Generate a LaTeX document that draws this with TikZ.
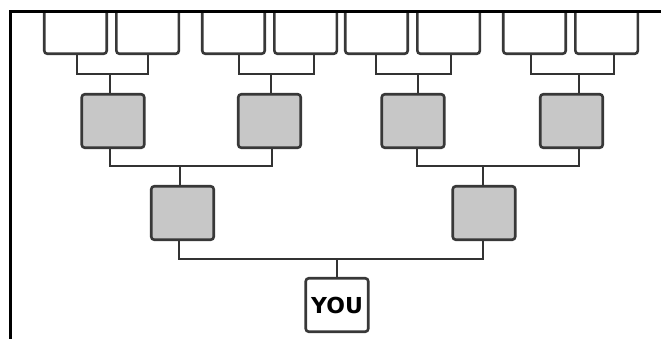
\documentclass[tikz,border=0pt]{standalone}
\usepackage{fontspec}
\usepackage{tikz}
\usetikzlibrary{positioning}
\newfontfamily\youfont{DejaVu Sans}

\begin{document}
\begin{tikzpicture}[
            x = 1pt, y = 1pt, % one unit per pixel
            semithick
            ]

        \tikzstyle{person}=[
            draw = black!78,
            line width = 2.6pt,
            rounded corners = 3pt,
            fill = white,
            minimum width = 62.5pt,
            minimum height = 53.5pt,
            inner sep = 0pt
        ]
        \tikzstyle{ancestor}=[person, fill = black!22]
        \tikzstyle{link}=[draw = black!80, line width = 2.2pt]

    \useasboundingbox (0,0) rectangle (661,339);

	% you
	\node[person] (you) at (337,34) {\youfont\bfseries\fontsize{22}{22}\selectfont YOU};

	% parents
	\node[ancestor] (P1) at (182.5,126) {};
	\node[ancestor] (P2) at (484,126) {};

	% grandparents
	\node[ancestor] (K1) at (113,218) {};
	\node[ancestor] (K2) at (269.5,218) {};
	\node[ancestor] (K3) at (413,218) {};
	\node[ancestor] (K4) at (571.5,218) {};

	% great-grandparents
	\begin{scope}
	 \clip (10,0) rectangle (661,328);
	 \node[person] (G1) at (75.5,312) {};
	 \node[person] (G2) [right = 7pt of G1] {};
	 \node[person] (G3) at (233.5,312) {};
	 \node[person] (G4) [right = 7pt of G3] {};
	 \node[person] (G5) at (376.5,312) {};
	 \node[person] (G6) [right = 7pt of G5] {};
	 \node[person] (G7) at (534.5,312) {};
	 \node[person] (G8) [right = 7pt of G7] {};

	 % great-grandparents to grandparents
	 \draw[link] ([xshift=1.5pt]G1.south) -- ++(0,-19) coordinate (b1) -| ([xshift=0.5pt]G2.south);
	 \draw[link] ([xshift=-3pt]K1.north) -- ([xshift=-3pt]K1.north |- b1);
	 \draw[link] ([xshift=5.5pt]G3.south) -- ++(0,-19) coordinate (b2) -| ([xshift=8.5pt]G4.south);
	 \draw[link] ([xshift=1.5pt]K2.north) -- ([xshift=1.5pt]K2.north |- b2);
	 \draw[link] ([xshift=-0.5pt]G5.south) -- ++(0,-19) coordinate (b3) -| ([xshift=2.5pt]G6.south);
	 \draw[link] ([xshift=5pt]K3.north) -- ([xshift=5pt]K3.north |- b3);
	 \draw[link] ([xshift=-3.5pt]G7.south) -- ++(0,-19) coordinate (b4) -| ([xshift=7.5pt]G8.south);
	 \draw[link] ([xshift=7.5pt]K4.north) -- ([xshift=7.5pt]K4.north |- b4);
	\end{scope}

	% grandparents to parents
	\draw[link] ([xshift=-3pt]K1.south) -- ++(0,-17) coordinate (c1) -| ([xshift=2.5pt]K2.south);
	\draw[link] ([xshift=-2.5pt]P1.north) -- ([xshift=-2.5pt]P1.north |- c1);
	\draw[link] ([xshift=4pt]K3.south) -- ++(0,-17) coordinate (c2) -| ([xshift=7.5pt]K4.south);
	\draw[link] ([xshift=-1pt]P2.north) -- ([xshift=-1pt]P2.north |- c2);

	% parents to you
	\draw[link] ([xshift=-3.5pt]P1.south) -- ++(0,-18) coordinate (d1) -| ([xshift=-1pt]P2.south);
	\draw[link] (you.north) -- (you.north |- d1);

	% frame
	\draw[line width = 3pt] (10.5,0) |- (661,327.5);

\end{tikzpicture}
\end{document}
